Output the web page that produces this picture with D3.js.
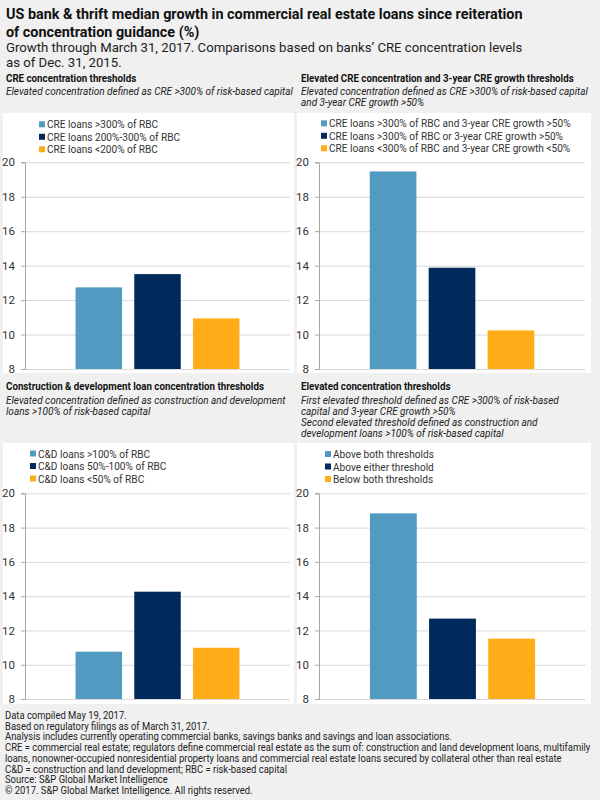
<!DOCTYPE html>
<html><head><meta charset="utf-8">
<script src="https://cdn.jsdelivr.net/npm/d3@7"></script>
<style>
body{margin:0;background:#f0f0f0;}
svg{display:block;font-family:Roboto,"Noto Sans",sans-serif;}
</style>
</head><body>
<svg id="c" width="600" height="800"></svg>
<script>
// ---------- DATA ----------
const titleLines = [
  "US bank & thrift median growth in commercial real estate loans since reiteration",
  "of concentration guidance (%)"
];
const subtitleLines = [
  "Growth through March 31, 2017. Comparisons based on banks’ CRE concentration levels",
  "as of Dec. 31, 2015."
];
const panelTitles = [
  "CRE concentration thresholds",
  "Elevated CRE concentration and 3-year CRE growth thresholds",
  "Construction & development loan concentration thresholds",
  "Elevated concentration thresholds"
];
const notesCRE = ["Elevated concentration defined as CRE >300% of risk-based capital"];
const notesGrowth = ["Elevated concentration defined as CRE >300% of risk-based capital",
  "and 3-year CRE growth >50%"];
const notesCD = ["Elevated concentration defined as construction and development",
  "loans  >100% of risk-based capital"];
const notesBoth = ["First elevated threshold defined as CRE >300% of risk-based",
  "capital and 3-year CRE growth >50%",
  "Second elevated threshold defined as construction and",
  "development loans >100% of risk-based capital"];

const seriesCRE = ["CRE loans >300% of RBC", "CRE loans 200%-300% of RBC", "CRE loans <200% of RBC"];
const seriesGrowth = ["CRE loans >300% of RBC and 3-year CRE growth >50%",
  "CRE loans >300% of RBC or 3-year CRE growth >50%",
  "CRE loans <300% of RBC and 3-year CRE growth <50%"];
const seriesCD = ["C&D loans >100% of RBC", "C&D loans 50%-100% of RBC", "C&D loans <50% of RBC"];
const seriesBoth = ["Above both thresholds", "Above either threshold", "Below both thresholds"];

const valuesCRE = [12.74, 13.51, 10.94];
const valuesGrowth = [19.47, 13.88, 10.24];
const valuesCD = [10.76, 14.26, 10.99];
const valuesBoth = [18.83, 12.69, 11.52];

const yTicks = [8, 10, 12, 14, 16, 18, 20];

const footerLines = [
  "Data compiled May 19, 2017.",
  "Based on regulatory filings as of March 31, 2017.",
  "Analysis includes currently operating commercial banks, savings banks and savings and loan associations.",
  "CRE = commercial real estate; regulators define commercial real estate as the sum of: construction and land development loans, multifamily",
  "loans, nonowner-occupied nonresidential property loans and commercial real estate loans secured by collateral other than real estate",
  "C&D = construction and land development; RBC = risk-based capital",
  "Source: S&P Global Market Intelligence",
  "© 2017. S&P Global Market Intelligence. All rights reserved."
];

// ---------- STYLE / LAYOUT ----------
const seriesColors = ["#519bc3", "#002a5c", "#fead18"];
const bg = "#f0f0f0";

const svg = d3.select("#c");
svg.append("rect").attr("width", 600).attr("height", 800).attr("fill", bg);

function fitGroup(sel, refNode, target) {
  const w = refNode.getComputedTextLength();
  const s = target / w;
  sel.each(function () {
    const t = d3.select(this);
    const x = +t.attr("x"), y = +t.attr("y");
    t.attr("x", 0).attr("y", 0).attr("transform", `translate(${x},${y}) scale(${s},1)`);
  });
}

// Title
const titleSel = svg.append("g").selectAll("text").data(titleLines).join("text")
  .attr("x", 6).attr("y", (d, i) => 19 + i * 18)
  .attr("font-size", 14.5).attr("font-weight", "bold").attr("fill", "#111")
  .text(d => d);
fitGroup(titleSel, titleSel.nodes()[0], 517);

const subSel = svg.append("g").selectAll("text").data(subtitleLines).join("text")
  .attr("x", 6).attr("y", (d, i) => 52 + i * 14.5)
  .attr("font-size", 13).attr("fill", "#222")
  .text(d => d);
fitGroup(subSel, subSel.nodes()[0], 517);

const panels = [
  {title: panelTitles[0], notes: notesCRE, labels: seriesCRE, values: valuesCRE,
   box: [3, 113, 291, 260], plot: [25, 290, 162.3, 369], tx: 6, ty: 81.5, legX: 39, legY: 124.3},
  {title: panelTitles[1], notes: notesGrowth, labels: seriesGrowth, values: valuesGrowth,
   box: [297, 113, 294, 260], plot: [319, 585, 162.3, 369], tx: 301, ty: 81.5, legX: 321, legY: 123.3},
  {title: panelTitles[2], notes: notesCD, labels: seriesCD, values: valuesCD,
   box: [3, 443, 291, 261], plot: [25, 290, 493.3, 699], tx: 6, ty: 390, legX: 30, legY: 453.5},
  {title: panelTitles[3], notes: notesBoth, labels: seriesBoth, values: valuesBoth,
   box: [297, 443, 294, 261], plot: [319, 586, 493.3, 699], tx: 301, ty: 390, legX: 325, legY: 454}
];

const headerTexts = [], noteTexts = [], legendTexts = [];
let headerRef, noteRef, legendRef;

panels.forEach((p, pi) => {
  const g = svg.append("g");
  g.append("rect").attr("x", p.box[0]).attr("y", p.box[1]).attr("width", p.box[2]).attr("height", p.box[3])
    .attr("fill", "#fff");

  const h = g.append("text").attr("x", p.tx).attr("y", p.ty)
    .attr("font-size", 10.5).attr("font-weight", "bold").attr("fill", "#111").text(p.title);
  headerTexts.push(h.node());
  if (pi === 1) headerRef = h.node();

  p.notes.forEach((n, i) => {
    const t = g.append("text").attr("x", p.tx).attr("y", p.ty + 13.8 + i * 11)
      .attr("font-size", 10).attr("font-style", "italic").attr("fill", "#222").text(n);
    noteTexts.push(t.node());
    if (pi === 0 && i === 0) noteRef = t.node();
  });

  const [L, R, T, B] = p.plot;
  const y = d3.scaleLinear().domain([d3.min(yTicks), d3.max(yTicks)]).range([B, T]);
  const x = d3.scaleBand().domain(p.labels).range([L, R]).paddingInner(0.208).paddingOuter(0.861);

  // gridlines
  g.append("g").attr("transform", `translate(${L},0)`)
    .call(d3.axisLeft(y).tickValues(yTicks).tickSize(-(R - L)).tickFormat(""))
    .call(a => a.select(".domain").remove())
    .call(a => a.selectAll("line").attr("stroke", "#d9d9d9").attr("stroke-width", 1));

  // bars
  g.append("g").selectAll("rect").data(p.values).join("rect")
    .attr("x", (d, i) => x(p.labels[i]))
    .attr("width", x.bandwidth())
    .attr("y", d => y(d))
    .attr("height", d => y(d3.min(yTicks)) - y(d))
    .attr("fill", (d, i) => seriesColors[i]);

  // axis
  g.append("g").attr("transform", `translate(${L},0)`)
    .call(d3.axisLeft(y).tickValues(yTicks).tickSize(4).tickPadding(6).tickFormat(d3.format("d")))
    .call(a => a.select(".domain").attr("stroke", "#a6a6a6"))
    .call(a => a.selectAll("line").attr("stroke", "#a6a6a6"))
    .call(a => a.selectAll("text").attr("font-size", 11.5).attr("fill", "#333")
      .attr("font-family", "Roboto, 'Noto Sans', sans-serif"));

  // legend
  p.labels.forEach((lab, i) => {
    const cy = p.legY + i * 12.5;
    g.append("rect").attr("x", p.legX).attr("y", cy - 3).attr("width", 6).attr("height", 6)
      .attr("fill", seriesColors[i]);
    const t = g.append("text").attr("x", p.legX + 8).attr("y", cy + 4)
      .attr("font-size", 11).attr("fill", "#333").text(lab);
    legendTexts.push(t.node());
    if (pi === 1 && i === 0) legendRef = t.node();
  });
});

fitGroup(d3.selectAll(headerTexts), headerRef, 273);
fitGroup(d3.selectAll(noteTexts), noteRef, 287);
fitGroup(d3.selectAll(legendTexts), legendRef, 242);

// footer
const footSel = svg.append("g").selectAll("text").data(footerLines).join("text")
  .attr("x", 5).attr("y", (d, i) => 719 + i * 10.7)
  .attr("font-size", 10).attr("fill", "#222").text(d => d);
fitGroup(footSel, footSel.nodes()[3], 586);
</script>
</body></html>
